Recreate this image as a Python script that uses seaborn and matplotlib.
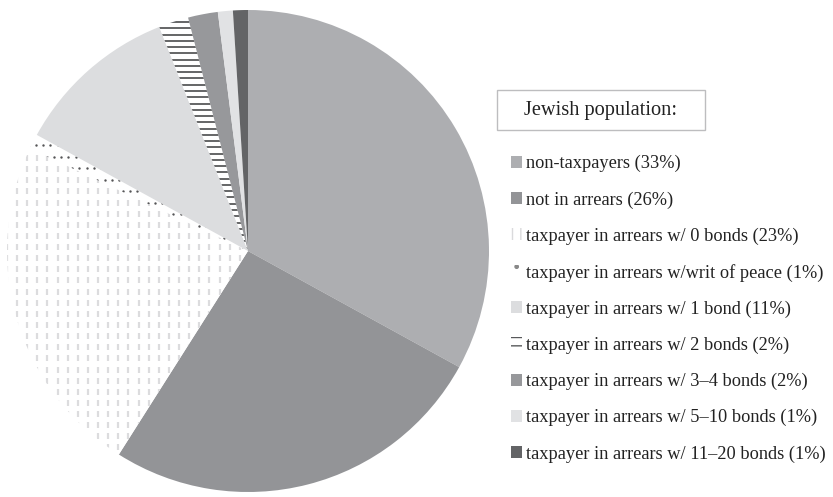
import numpy as np
import matplotlib
matplotlib.use("Agg")
import matplotlib.pyplot as plt
from matplotlib.patches import Patch, Rectangle
import seaborn as sns

# Jewish population by tax status
categories = [
    "non-taxpayers",
    "not in arrears",
    "taxpayer in arrears w/ 0 bonds",
    "taxpayer in arrears w/writ of peace",
    "taxpayer in arrears w/ 1 bond",
    "taxpayer in arrears w/ 2 bonds",
    "taxpayer in arrears w/ 3\u20134 bonds",
    "taxpayer in arrears w/ 5\u201310 bonds",
    "taxpayer in arrears w/ 11\u201320 bonds",
]
shares = [33, 26, 23, 1, 11, 2, 2, 1, 1]
title_text = "Jewish population:"

fills = ["#adaeb1", "#939497", "#ffffff", "#ffffff", "#dcdddf",
         "#ffffff", "#97989b", "#e1e2e4", "#636466"]

sns.set_theme(style="white")
plt.rcParams["font.family"] = ["Liberation Serif", "DejaVu Serif"]

W, H = 833, 497
fig = plt.figure(figsize=(W / 100, H / 100), dpi=100)
fig.patch.set_facecolor("white")

# pie occupies a square of 482 px, left edge x=7, top edge y=10
R = 482
ax = fig.add_axes([7 / W, (H - 10 - R) / H, R / W, R / H])
wedges, _ = ax.pie(shares, colors=fills, startangle=90, counterclock=False,
                   radius=1, wedgeprops=dict(linewidth=0))
ax.set_xlim(-1, 1)
ax.set_ylim(-1, 1)
ax.set_aspect("equal")
ax.axis("off")

# vertical dash texture for the 0-bond slice
step = 0.042
xs = np.arange(-1, 1, step)
ys = np.arange(-1, 1, step * 1.1)
gx, gy = np.meshgrid(xs, ys)
dash = ax.scatter(gx.ravel(), gy.ravel(), marker="|", s=20, linewidths=1.6,
                  color="#dcdcde", zorder=3)
dash.set_clip_path(wedges[2])

# dotted texture for the writ-of-peace slice
dstep = 0.03
dx = np.arange(-1, 1, dstep)
dy = np.arange(-1, 1, dstep * 1.6)
px, py = np.meshgrid(dx, dy)
px = px + (np.arange(len(dy))[:, None] % 2) * dstep / 2
dots = ax.scatter(px.ravel(), py.ravel(), marker="o", s=3, linewidths=0,
                  color="#555557", zorder=3)
dots.set_clip_path(wedges[3])

# horizontal stripes for the 2-bond slice
for yv in np.arange(-1, 1, 0.026):
    ln, = ax.plot([-1, 1], [yv, yv], color="#58595b", lw=1.3, zorder=3,
                  solid_capstyle="butt")
    ln.set_clip_path(wedges[5])

# legend title box
fig.patches.append(Rectangle((497 / W, 1 - 130 / H), 208 / W, 40 / H,
                             transform=fig.transFigure, facecolor="white",
                             edgecolor="#bdbdbf", linewidth=1.0))
fig.text(601 / W, 1 - 110 / H, title_text, ha="center", va="center",
         fontsize=14.7, color="#222222")

handles = []
for i, c in enumerate(fills):
    if i == 2:
        h = Patch(facecolor="white", edgecolor="#dadadc", hatch="||", linewidth=0)
    elif i == 3:
        h = Patch(facecolor="white", edgecolor="#888888", hatch=".", linewidth=0)
    elif i == 5:
        h = Patch(facecolor="white", edgecolor="#58595b", hatch="--", linewidth=0)
    else:
        h = Patch(facecolor=c, edgecolor="none")
    handles.append(h)

labels = [f"{c} ({v}%)" for c, v in zip(categories, shares)]
leg = fig.legend(handles, labels, loc="upper left",
                 bbox_to_anchor=(511 / W, 1 - 155 / H), frameon=False,
                 fontsize=13.2, handlelength=0.62, handleheight=0.62,
                 handletextpad=0.22, labelspacing=1.03, borderpad=0,
                 borderaxespad=0)
for t in leg.get_texts():
    t.set_color("#222222")

fig.savefig("out.png", dpi=100, facecolor="white")
